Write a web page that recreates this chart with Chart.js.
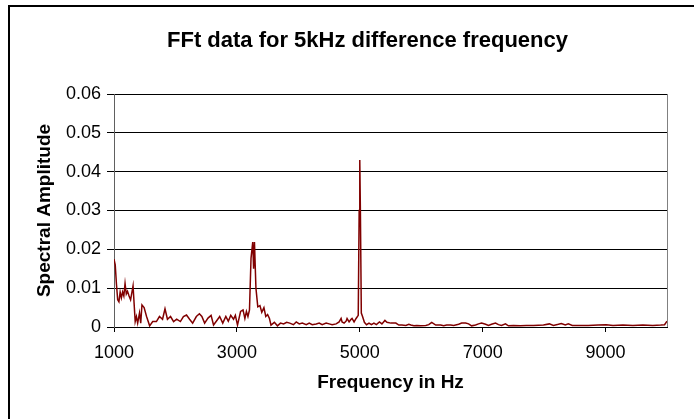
<!DOCTYPE html>
<html>
<head>
<meta charset="utf-8">
<title>FFt data for 5kHz difference frequency</title>
<script src="https://cdn.jsdelivr.net/npm/chart.js@4.4.1/dist/chart.umd.min.js"></script>
<style>
    html, body { margin: 0; padding: 0; background: #fff; overflow: hidden; }
    #wrap { position: relative; width: 694px; height: 419px; }
    #fftChart { position: absolute; left: 0; top: 0; }
    /* chart area outline, only left and top edges fall inside the window */
    #outline { position: absolute; left: 8px; top: 5px; width: 700px; height: 430px;
               border-left: 2px solid #000; border-top: 2px solid #000; pointer-events: none; }
    #chartTitle { position: absolute; left: 167px; width: 400px; top: 29px; text-align: center;
                  font: bold 22px/22px Arial, 'Liberation Sans', sans-serif; color: #000;
                  white-space: nowrap; }
</style>
</head>
<body>
<div id="wrap">
    <canvas id="fftChart" width="694" height="419"></canvas>
    <div id="chartTitle">FFt data for 5kHz difference frequency</div>
    <div id="outline"></div>
</div>
<script>
// spectrum samples (Hz / amplitude)
const freqHz = [
    1000, 1020, 1040, 1060, 1080, 1100, 1120, 1140, 1160, 1180,
    1200, 1220, 1245, 1270, 1310, 1345, 1365, 1385, 1415, 1435,
    1455, 1490, 1530, 1580, 1630, 1690, 1740, 1790, 1830, 1870,
    1920, 1970, 2020, 2080, 2130, 2180, 2230, 2280, 2340, 2390,
    2430, 2475, 2530, 2580, 2620, 2680, 2720, 2770, 2820, 2860,
    2900, 2945, 2975, 3010, 3060, 3100, 3130, 3155, 3180, 3205,
    3230, 3258, 3272, 3286, 3310, 3340, 3375, 3405, 3440, 3470,
    3500, 3530, 3555, 3610, 3660, 3710, 3760, 3810, 3860, 3920,
    3966, 4015, 4064, 4129, 4177, 4226, 4291, 4340, 4388, 4453,
    4502, 4550, 4615, 4664, 4696, 4712, 4745, 4777, 4793, 4826,
    4858, 4874, 4907, 4940, 4975, 4990, 5000, 5010, 5025, 5045,
    5075, 5110, 5150, 5190, 5230, 5270, 5320, 5360, 5409, 5442,
    5506, 5587, 5636, 5685, 5750, 5798, 5831, 5880, 5928, 5993,
    6074, 6123, 6171, 6236, 6317, 6366, 6414, 6479, 6528, 6609,
    6658, 6722, 6771, 6820, 6884, 6933, 6982, 7047, 7095, 7144,
    7209, 7257, 7306, 7371, 7419, 7500, 7614, 7711, 7827, 7989,
    8086, 8151, 8232, 8280, 8345, 8394, 8459, 8556, 8718, 8880,
    9010, 9121, 9283, 9445, 9607, 9769, 9899, 9960, 10000
];

const spectralAmp = [
    0.0175, 0.0160, 0.0110, 0.0070, 0.0065, 0.0090, 0.0075, 0.0090, 0.0080, 0.0112,
    0.0085, 0.0092, 0.0080, 0.0070, 0.0106, 0.0014, 0.0027, 0.0010, 0.0036, 0.0010,
    0.0057, 0.0050, 0.0027, 0.0003, 0.0014, 0.0014, 0.0027, 0.0020, 0.0047, 0.0020,
    0.0027, 0.0014, 0.0020, 0.0014, 0.0027, 0.0031, 0.0020, 0.0010, 0.0027, 0.0034,
    0.0027, 0.0010, 0.0023, 0.0030, 0.0005, 0.0018, 0.0027, 0.0010, 0.0027, 0.0015,
    0.0030, 0.0020, 0.0030, 0.0005, 0.0040, 0.0044, 0.0022, 0.0040, 0.0027, 0.0044,
    0.0177, 0.0219, 0.0150, 0.0219, 0.0100, 0.0052, 0.0055, 0.0038, 0.0050, 0.0027,
    0.0032, 0.0022, 0.0005, 0.0012, 0.0003, 0.0010, 0.0008, 0.0012, 0.0010, 0.0006,
    0.0013, 0.0008, 0.0010, 0.0006, 0.0010, 0.0006, 0.0008, 0.0010, 0.0006, 0.0010,
    0.0008, 0.0006, 0.0008, 0.0013, 0.0022, 0.0013, 0.0010, 0.0015, 0.0022, 0.0013,
    0.0020, 0.0022, 0.0013, 0.0022, 0.0030, 0.0300, 0.0430, 0.0300, 0.0036, 0.0027,
    0.0012, 0.0006, 0.0010, 0.0006, 0.0010, 0.0006, 0.0013, 0.0008, 0.0017, 0.0012,
    0.0010, 0.0010, 0.0005, 0.0005, 0.0004, 0.0007, 0.0005, 0.0003, 0.0004, 0.0003,
    0.0004, 0.0006, 0.0012, 0.0005, 0.0005, 0.0003, 0.0005, 0.0005, 0.0004, 0.0007,
    0.0010, 0.0010, 0.0008, 0.0003, 0.0005, 0.0008, 0.0010, 0.0007, 0.0004, 0.0007,
    0.0010, 0.0006, 0.0004, 0.0008, 0.0003, 0.0004, 0.0003, 0.0004, 0.0004, 0.0005,
    0.0008, 0.0004, 0.0007, 0.0009, 0.0005, 0.0008, 0.0004, 0.0004, 0.0004, 0.0005,
    0.0006, 0.0004, 0.0005, 0.0004, 0.0005, 0.0004, 0.0005, 0.0006, 0.0015
];

const xTickValues = [1000, 3000, 5000, 7000, 9000];
const yTickValues = [0, 0.01, 0.02, 0.03, 0.04, 0.05, 0.06];

const FONT = "Arial, 'Liberation Sans', sans-serif";

// grey frame round the plot area, drawn under grid and axes
const plotFrame = {
    id: 'plotFrame',
    beforeDraw(chart) {
        const { ctx, chartArea } = chart;
        ctx.save();
        ctx.strokeStyle = '#808080';
        ctx.lineWidth = 1;
        ctx.strokeRect(Math.round(chartArea.left) + 0.5, Math.round(chartArea.top) + 0.5,
            Math.round(chartArea.right - chartArea.left), Math.round(chartArea.bottom - chartArea.top));
        ctx.restore();
    }
};

document.addEventListener('DOMContentLoaded', () => {
    renderFftChart();
});

function renderFftChart() {
    const ctx = document.getElementById('fftChart').getContext('2d');
    const points = freqHz.map((f, i) => ({ x: f, y: spectralAmp[i] }));

    new Chart(ctx, {
        type: 'line',
        data: {
            datasets: [{
                label: 'Spectral Amplitude',
                data: points,
                borderColor: '#800000',
                borderWidth: 1.5,
                pointRadius: 0,
                tension: 0,
                fill: false
            }]
        },
        plugins: [plotFrame],
        options: {
            responsive: false,
            devicePixelRatio: 1,
            animation: false,
            layout: { padding: { left: 0, right: 27, top: 94, bottom: 0 } },
            plugins: {
                legend: { display: false },
                tooltip: { enabled: false },
                title: { display: false }
            },
            scales: {
                x: {
                    type: 'linear',
                    min: 1000,
                    max: 10000,
                    afterBuildTicks: scale => { scale.ticks = xTickValues.map(v => ({ value: v })); },
                    afterFit: scale => { scale.height = 92; },
                    grid: { drawOnChartArea: false, drawTicks: true, tickLength: 5, color: '#000' },
                    border: { color: '#000', width: 1 },
                    ticks: {
                        color: '#000',
                        font: { family: FONT, size: 18 },
                        padding: 10,
                        maxRotation: 0,
                        autoSkip: false,
                        callback: v => String(v)
                    },
                    title: {
                        display: true,
                        text: 'Frequency in Hz',
                        color: '#000',
                        font: { family: FONT, size: 19, weight: 'bold', lineHeight: 1.2 },
                        padding: { top: 0, bottom: 25 }
                    }
                },
                y: {
                    min: 0,
                    max: 0.06,
                    afterBuildTicks: scale => { scale.ticks = yTickValues.map(v => ({ value: v })); },
                    afterFit: scale => { scale.width = 114; },
                    grid: { color: '#000', lineWidth: 1, tickLength: 7 },
                    border: { color: '#606060', width: 1 },
                    ticks: {
                        color: '#000',
                        font: { family: FONT, size: 18 },
                        padding: 6,
                        callback: v => (v === 0 ? '0' : v.toFixed(2))
                    },
                    title: {
                        display: true,
                        text: 'Spectral Amplitude',
                        color: '#000',
                        font: { family: FONT, size: 19, weight: 'bold', lineHeight: 1.2 },
                        padding: { top: 33, bottom: 0 }
                    }
                }
            }
        }
    });
}
</script>
</body>
</html>
